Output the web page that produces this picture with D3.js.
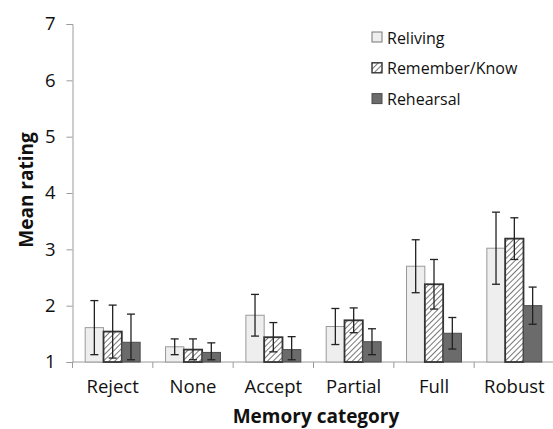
<!DOCTYPE html>
<html>
<head>
<meta charset="utf-8">
<script src="https://cdn.jsdelivr.net/npm/d3@7"></script>
<style>
  html, body { margin: 0; padding: 0; background: #fff; }
  svg { display: block; }
  text { font-family: "Open Sans", "Liberation Sans", sans-serif; fill: #111; }
</style>
</head>
<body>
<svg id="chart" width="553" height="429"></svg>
<script>
// Memory categories along the x axis
const categories = ["Reject", "None", "Accept", "Partial", "Full", "Robust"];
const seriesNames = ["Reliving", "Remember/Know", "Rehearsal"];

// Mean ratings per series
const reliving      = [1.61, 1.27, 1.83, 1.63, 2.70, 3.02];
const rememberKnow  = [1.54, 1.22, 1.44, 1.74, 2.38, 3.19];
const rehearsal     = [1.35, 1.17, 1.22, 1.36, 1.51, 2.00];

// Error bar half-widths per series
const relivingErr     = [0.48, 0.14, 0.37, 0.32, 0.47, 0.64];
const rememberKnowErr = [0.47, 0.19, 0.26, 0.22, 0.44, 0.37];
const rehearsalErr    = [0.50, 0.17, 0.23, 0.23, 0.28, 0.33];

const yTicks = [1, 2, 3, 4, 5, 6, 7];

const seriesValues = [reliving, rememberKnow, rehearsal];
const seriesErrors = [relivingErr, rememberKnowErr, rehearsalErr];

const svg = d3.select("#chart");
const defs = svg.append("defs");

// Diagonal hatch for Remember/Know
const pat = defs.append("pattern")
  .attr("id", "hatch")
  .attr("patternUnits", "userSpaceOnUse")
  .attr("width", 4).attr("height", 4)
  .attr("patternTransform", "rotate(45)");
pat.append("rect").attr("width", 4).attr("height", 4).attr("fill", "#fff");
pat.append("line").attr("x1", 0).attr("y1", 0).attr("x2", 0).attr("y2", 4)
  .attr("stroke", "#555").attr("stroke-width", 1.6);

const fills = ["#eeeeee", "url(#hatch)", "#6b6b6b"];
const strokes = ["#9a9a9a", "#333", "#4a4a4a"];
const strokeW = [1, 1.8, 1];

const plotLeft = 72.5, plotRight = 554.5, plotTop = 24, plotBottom = 362;

const x = d3.scaleBand().domain(categories).range([plotLeft, plotRight]).padding(0);
const xs = d3.scaleBand().domain(seriesNames)
  .range([x.bandwidth() * 0.158, x.bandwidth() * 0.842]).padding(0);
const y = d3.scaleLinear().domain([1, 7]).range([plotBottom, plotTop]);

// Y axis
const yAxis = svg.append("g")
  .attr("transform", `translate(${plotLeft},0)`)
  .call(d3.axisLeft(y).tickValues(yTicks).tickFormat(d3.format("d")).tickSize(6).tickPadding(11));
yAxis.select(".domain").attr("stroke", "#9c9c9c");
yAxis.selectAll(".tick line").attr("stroke", "#9c9c9c");
yAxis.selectAll(".tick text").attr("font-size", 18.5).attr("fill", "#222")
  .attr("font-family", "'Open Sans', sans-serif");

// X axis with ticks at category boundaries
const xAxisG = svg.append("g").attr("transform", `translate(0,${plotBottom})`);
xAxisG.append("line").attr("x1", plotLeft).attr("x2", plotRight)
  .attr("stroke", "#9c9c9c");
xAxisG.selectAll("line.tk").data(categories).join("line").attr("class", "tk")
  .attr("x1", d => x(d)).attr("x2", d => x(d))
  .attr("y1", 0).attr("y2", 6).attr("stroke", "#9c9c9c");
xAxisG.selectAll("text").data(categories).join("text")
  .attr("x", d => x(d) + x.bandwidth() / 2)
  .attr("y", 31)
  .attr("text-anchor", "middle")
  .attr("font-size", 18.5)
  .attr("fill", "#222")
  .text(d => d);

// Bars and error bars
seriesNames.forEach((s, si) => {
  const g = svg.append("g");
  const vals = seriesValues[si];
  const errs = seriesErrors[si];
  g.selectAll("rect").data(categories).join("rect")
    .attr("x", (c) => x(c) + xs(s))
    .attr("width", xs.bandwidth())
    .attr("y", (c, i) => y(vals[i]))
    .attr("height", (c, i) => y(1) - y(vals[i]))
    .attr("fill", fills[si])
    .attr("stroke", strokes[si])
    .attr("stroke-width", strokeW[si]);
  const eb = g.selectAll("g.err").data(categories).join("g").attr("class", "err");
  const cx = c => x(c) + xs(s) + xs.bandwidth() / 2;
  const lo = i => y(Math.max(1.04, vals[i] - errs[i]));
  const hi = i => y(vals[i] + errs[i]);
  eb.append("line").attr("x1", cx).attr("x2", cx)
    .attr("y1", (c, i) => lo(i)).attr("y2", (c, i) => hi(i))
    .attr("stroke", "#222").attr("stroke-width", 1.3);
  [hi, lo].forEach(fn => {
    eb.append("line")
      .attr("x1", c => cx(c) - 4).attr("x2", c => cx(c) + 4)
      .attr("y1", (c, i) => fn(i)).attr("y2", (c, i) => fn(i))
      .attr("stroke", "#222").attr("stroke-width", 1.3);
  });
});

// Axis titles
svg.append("text")
  .attr("transform", "translate(33,190) rotate(-90)")
  .attr("text-anchor", "middle")
  .attr("font-size", 19).attr("font-weight", "bold")
  .text("Mean rating");
svg.append("text")
  .attr("x", 316).attr("y", 423)
  .attr("text-anchor", "middle")
  .attr("font-size", 19).attr("font-weight", "bold")
  .text("Memory category");

// Legend
const legend = svg.append("g").attr("transform", "translate(372,32)");
seriesNames.forEach((s, si) => {
  const row = legend.append("g").attr("transform", `translate(0,${si * 30.8})`);
  row.append("rect").attr("width", 10).attr("height", 10)
    .attr("fill", fills[si]).attr("stroke", si === 0 ? "#777" : strokes[si])
    .attr("stroke-width", si === 1 ? 1.4 : 1);
  row.append("text").attr("x", 15).attr("y", 11.5)
    .attr("font-size", 16).attr("fill", "#222").text(s);
});
</script>
</body>
</html>
